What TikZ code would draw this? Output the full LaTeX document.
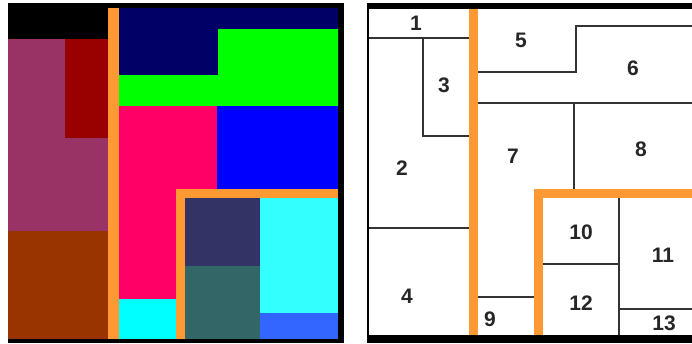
\documentclass[tikz,border=0pt]{standalone}
\usepackage{fontspec}
\setmainfont{Liberation Sans}
\usepackage{xcolor}
\usepackage{tikz}
\definecolor{splitorange}{HTML}{FF9933}
\definecolor{cellplum}{HTML}{993366}
\definecolor{cellmaroon}{HTML}{990000}
\definecolor{cellrust}{HTML}{993300}
\definecolor{cellnavy}{HTML}{000066}
\definecolor{cellgreen}{HTML}{00FF00}
\definecolor{cellrose}{HTML}{FF0066}
\definecolor{cellblue}{HTML}{0000FF}
\definecolor{cellaqua}{HTML}{00FFFF}
\definecolor{cellslate}{HTML}{333366}
\definecolor{cellteal}{HTML}{336666}
\definecolor{cellcyan}{HTML}{33FFFF}
\definecolor{cellsky}{HTML}{3366FF}
\definecolor{edgegray}{HTML}{333333}
\tikzset{
  split/.style   = {fill=splitorange},
  edge/.style    = {draw=edgegray, line width=1.8pt},
  frame/.style   = {fill=black},
  celllab/.style = {inner sep=0pt, font=\fontsize{21}{21}\selectfont\bfseries, text=black!85},
}
\begin{document}
\begin{tikzpicture}[x=1pt, y=-1pt]
  \useasboundingbox (0,0) rectangle (692,343);
  % colour treemap
  \fill[frame] (8,3) rectangle (344,343);
  \fill[cellplum]   (8,39) rectangle (108,231);
  \fill[cellmaroon] (65,39) rectangle (108,138);
  \fill[cellrust]   (8,231) rectangle (108,339);
  \fill[cellnavy]   (119,8) rectangle (338,75);
  \fill[cellgreen]  (218,29) -- (338,29) -- (338,106) -- (119,106) -- (119,75) -- (218,75) -- cycle;
  \fill[cellrose]   (119,106) rectangle (217,299);
  \fill[cellblue]   (217,106) rectangle (338,190);
  \fill[cellaqua]   (119,299) rectangle (176,339);
  \fill[cellslate]  (185,198) rectangle (260,266);
  \fill[cellteal]   (185,266) rectangle (260,339);
  \fill[cellcyan]   (260,198) rectangle (338,313);
  \fill[cellsky]    (260,313) rectangle (338,339);
  \fill[split] (108,8) rectangle (119,339);
  \fill[split] (176,189) rectangle (338,198);
  \fill[split] (176,189) rectangle (185,339);
  % numbered layout
  \fill[frame] (367,3) rectangle (692,9);
  \fill[frame] (367,335) rectangle (692,343);
  \fill[frame] (367,3) rectangle (369,343);
  \draw[edge] (369,38) -- (469,38);
  \draw[edge] (423,38) -- (423,136) -- (469,136);
  \draw[edge] (478,72) -- (576,72) -- (576,26) -- (692,26);
  \draw[edge] (478,103) -- (692,103);
  \draw[edge] (574,103) -- (574,189);
  \draw[edge] (369,228) -- (469,228);
  \draw[edge] (478,297) -- (534,297);
  \draw[edge] (619,198) -- (619,335);
  \draw[edge] (543,264) -- (619,264);
  \draw[edge] (619,309) -- (692,309);
  \fill[split] (469,9) rectangle (478,335);
  \fill[split] (534,189) rectangle (692,198);
  \fill[split] (534,189) rectangle (543,335);
  \node[celllab] (n1)  at (416,23)  {1};
  \node[celllab] (n2)  at (402,168) {2};
  \node[celllab] (n3)  at (444,85)  {3};
  \node[celllab] (n4)  at (407,296) {4};
  \node[celllab] (n5)  at (521,40)  {5};
  \node[celllab] (n6)  at (633,68)  {6};
  \node[celllab] (n7)  at (513,156) {7};
  \node[celllab] (n8)  at (641,149) {8};
  \node[celllab] (n9)  at (490,319) {9};
  \node[celllab] (n10) at (581,232) {10};
  \node[celllab] (n11) at (663,255) {11};
  \node[celllab] (n12) at (581,303) {12};
  \node[celllab] (n13) at (664,323) {13};
\end{tikzpicture}
\end{document}
